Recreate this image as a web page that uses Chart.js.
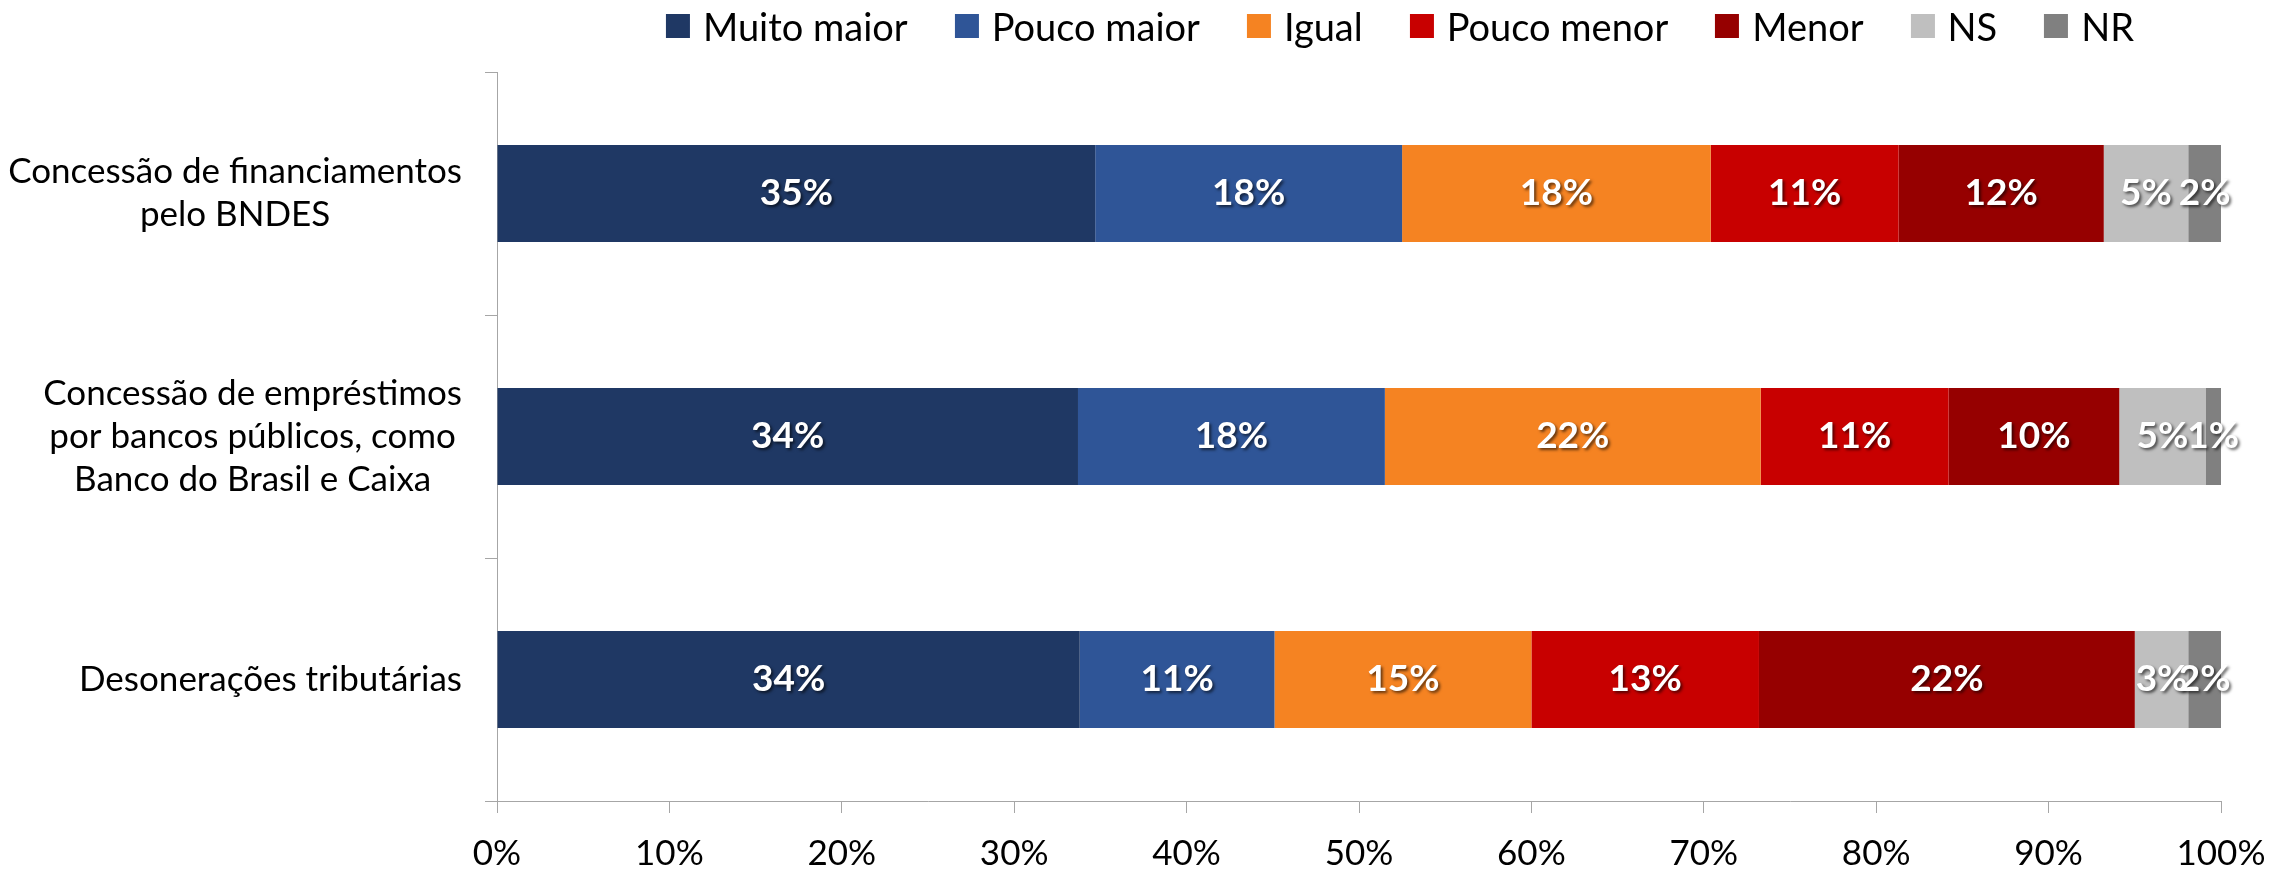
<!DOCTYPE html>
<html lang="pt-BR">
<head>
<meta charset="utf-8">
<title>Instrumentos de política</title>
<script src="https://cdn.jsdelivr.net/npm/chart.js@4.4.1/dist/chart.umd.min.js"></script>
<style>
  body { margin: 0; background: #fff; }
  #wrap { position: relative; width: 2272px; height: 873px; }
  #chart { position: absolute; left: 0; top: 0; }
  #legend {
    position: absolute; top: 7px; left: 1400px; transform: translateX(-50%);
    display: flex; font: 38px Lato, sans-serif; line-height: 38px; white-space: nowrap; color: #000;
  }
  .item { display: flex; align-items: center; margin-right: 47px; }
  .item:last-child { margin-right: 0; }
  .box { width: 24px; height: 24px; margin-right: 13px; }
</style>
</head>
<body>
<div id="wrap">
  <canvas id="chart" width="2272" height="873"></canvas>
  <div id="legend"></div>
</div>
<script>
const categories = [
  ['Concessão de financiamentos', 'pelo BNDES'],
  ['Concessão de empréstimos', 'por bancos públicos, como', 'Banco do Brasil e Caixa'],
  ['Desonerações tributárias']
];
const seriesNames = ['Muito maior', 'Pouco maior', 'Igual', 'Pouco menor', 'Menor', 'NS', 'NR'];
const seriesColors = ['#1F3864', '#2F5597', '#F58322', '#C80000', '#960000', '#BFBFBF', '#808080'];

const muitoMaior = [34.7, 33.7, 33.8];
const poucoMaior = [17.8, 17.8, 11.3];
const igual      = [17.9, 21.8, 14.9];
const poucoMenor = [10.9, 10.9, 13.2];
const menor      = [11.9,  9.9, 21.8];
const ns         = [ 4.9,  5.0,  3.1];
const nr         = [ 1.9,  0.9,  1.9];
const seriesValues = [muitoMaior, poucoMaior, igual, poucoMenor, menor, ns, nr];

const xMin = 0, xMax = 100, xStep = 10;

// legend
const legendEl = document.getElementById('legend');
seriesNames.forEach((name, i) => {
  const item = document.createElement('div');
  item.className = 'item';
  item.innerHTML = '<span class="box" style="background:' + seriesColors[i] + '"></span><span>' + name + '</span>';
  legendEl.appendChild(item);
});

// value labels in the middle of each segment
const barLabels = {
  id: 'barLabels',
  afterDatasetsDraw(chart) {
    const ctx = chart.ctx;
    ctx.save();
    ctx.font = 'bold 37px Lato';
    ctx.fillStyle = '#fff';
    ctx.textAlign = 'center';
    ctx.textBaseline = 'middle';
    ctx.shadowColor = 'rgba(0,0,0,0.6)';
    ctx.shadowOffsetX = 2;
    ctx.shadowOffsetY = 2;
    ctx.shadowBlur = 3;
    chart.data.datasets.forEach((ds, d) => {
      chart.getDatasetMeta(d).data.forEach((bar, i) => {
        ctx.fillText(Math.round(ds.data[i]) + '%', (bar.x + bar.base) / 2, bar.y);
      });
    });
    ctx.restore();
  }
};

// category labels: lines centred on each other, block right-aligned to the axis
const catLabels = {
  id: 'catLabels',
  afterDraw(chart) {
    const ctx = chart.ctx;
    const y = chart.scales.y;
    ctx.save();
    ctx.font = '35px Lato';
    ctx.fillStyle = '#000';
    ctx.textAlign = 'center';
    ctx.textBaseline = 'middle';
    categories.forEach((lines, i) => {
      const w = Math.max(...lines.map(t => ctx.measureText(t).width));
      const cx = y.right - 35 - w / 2;
      const cy = y.getPixelForValue(i);
      lines.forEach((t, j) => ctx.fillText(t, cx, cy + (j - (lines.length - 1) / 2) * 43));
    });
    ctx.restore();
  }
};

new Chart(document.getElementById('chart'), {
  type: 'bar',
  data: {
    labels: categories,
    datasets: seriesNames.map((name, i) => ({
      label: name,
      data: seriesValues[i],
      backgroundColor: seriesColors[i],
      borderWidth: 0,
      barPercentage: 0.5,
      categoryPercentage: 0.8
    }))
  },
  options: {
    indexAxis: 'y',
    responsive: false,
    animation: false,
    events: [],
    layout: { padding: { top: 72, right: 51, left: 0, bottom: 0 } },
    plugins: {
      legend: { display: false },
      tooltip: { enabled: false }
    },
    scales: {
      x: {
        stacked: true,
        min: xMin,
        max: xMax,
        ticks: {
          stepSize: xStep,
          callback: v => v + '%',
          font: { family: 'Lato', size: 35 },
          color: '#000',
          padding: 20,
          maxRotation: 0,
          autoSkip: false
        },
        grid: { drawOnChartArea: false, tickLength: 12, color: '#A6A6A6' },
        border: { color: '#A6A6A6' },
        afterFit: s => { s.height = 72; s.paddingLeft = 0; s.paddingRight = 0; }
      },
      y: {
        stacked: true,
        ticks: { display: false },
        grid: { drawOnChartArea: false, tickLength: 12, color: '#A6A6A6' },
        border: { color: '#A6A6A6' },
        afterFit: s => { s.width = 497; }
      }
    }
  },
  plugins: [barLabels, catLabels]
});
</script>
</body>
</html>
